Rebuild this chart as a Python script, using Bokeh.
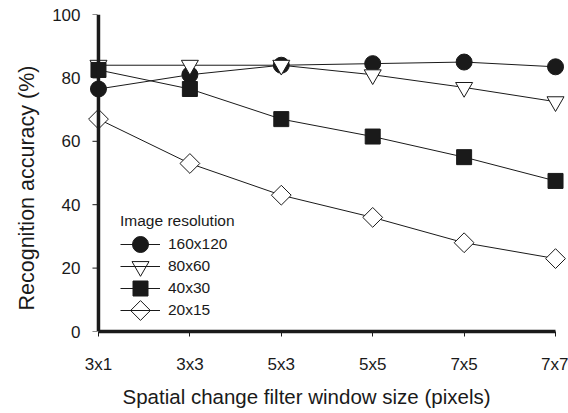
from bokeh.plotting import figure
from bokeh.models import Range1d, FixedTicker, Legend, LegendItem, Span, Title
from bokeh.embed import file_html
from bokeh.resources import INLINE
import math

categories = ["3x1", "3x3", "5x3", "5x5", "7x5", "7x7"]
res_160x120 = [76.5, 81, 84, 84.5, 85, 83.5]
res_80x60 = [84, 84, 84, 81, 77, 72.5]
res_40x30 = [82.5, 76.5, 67, 61.5, 55, 47.5]
res_20x15 = [67, 53, 43, 36, 28, 23]
series_names = ["160x120", "80x60", "40x30", "20x15"]
y_ticks = [0, 20, 40, 60, 80, 100]

xs = list(range(len(categories)))
FONT = "Liberation Sans"
INK = "#1a1a1a"

W, H = 568, 413
BL, BR, BT, BB = 87, 2, 14, 82
X0, X1 = -0.12, 5.12
Y0, Y1 = 0, 100
px_x = (W - BL - BR) / (X1 - X0)
px_y = (H - BT - BB) / (Y1 - Y0)

p = figure(width=W, height=H, output_backend="svg", toolbar_location=None,
           x_range=Range1d(X0, X1), y_range=Range1d(Y0, Y1),
           min_border_left=BL, min_border_right=BR, min_border_top=BT, min_border_bottom=BB)
p.outline_line_color = None
p.xgrid.visible = False
p.ygrid.visible = False

# y axis line at the first category, with short outward ticks
p.add_layout(Span(location=0, dimension="height", line_color=INK, line_width=3.5))
p.scatter([-3.5 / px_x] * len(y_ticks), y_ticks, marker="dash", size=5,
          line_color=INK, line_width=1)

styles = [
    (res_160x120, "circle", INK, 16, 0),
    (res_80x60, "inverted_triangle", "white", 17, 0),
    (res_40x30, "square", INK, 15, 0),
    (res_20x15, "square", "white", 14, math.pi / 4),
]

# legend layout (screen px from frame bottom-left)
LEG_X, LEG_Y, GW, GH, SP = 33, 11, 40, 20, 2
n = len(series_names)
items = []
for i, (name, (vals, marker, fill, size, ang)) in enumerate(zip(series_names, styles)):
    l = p.line(xs, vals, line_color=INK, line_width=1)
    p.scatter(xs, vals, marker=marker, size=size, angle=ang, fill_color=fill,
              line_color=INK, line_width=1)
    items.append(LegendItem(label=name, renderers=[l]))
    # full-size legend marker drawn on top of the legend line
    lx = X0 + (LEG_X + GW / 2) / px_x
    ly = Y0 + (LEG_Y + GH / 2 + (GH + SP) * (n - 1 - i)) / px_y
    p.scatter([lx], [ly], marker=marker, size=size, angle=ang, fill_color=fill,
              line_color=INK, line_width=1, level="overlay")

legend = Legend(items=items, title="Image resolution", location=(LEG_X, LEG_Y),
                padding=0, margin=0, spacing=SP, label_standoff=8,
                glyph_width=GW, glyph_height=GH, border_line_alpha=0,
                background_fill_alpha=0, title_standoff=4,
                label_text_font=FONT, label_text_font_size="15.5px", label_text_color=INK,
                title_text_font=FONT, title_text_font_size="15.5px", title_text_font_style="normal",
                title_text_color=INK)
p.add_layout(legend, "center")

for ax in (p.xaxis[0], p.yaxis[0]):
    ax.axis_line_width = 3.5
    ax.axis_line_color = INK
    ax.major_tick_line_color = INK
    ax.major_tick_line_width = 1
    ax.minor_tick_line_color = None
    ax.major_label_text_font = FONT
    ax.major_label_text_font_size = "17px"
    ax.major_label_text_color = INK

p.xaxis.ticker = FixedTicker(ticks=xs)
p.xaxis.major_label_overrides = {i: c for i, c in enumerate(categories)}
p.xaxis.bounds = (0, 5)
p.xaxis.major_tick_in = 0
p.xaxis.major_tick_out = 5
p.xaxis.major_label_standoff = 18

p.yaxis.ticker = FixedTicker(ticks=y_ticks)
p.yaxis.axis_line_color = None
p.yaxis.major_tick_line_color = None
p.yaxis.major_tick_out = 0
p.yaxis.major_tick_in = 0
p.yaxis.major_label_standoff = 7

p.add_layout(Title(text="Spatial change filter window size (pixels)", align="left",
                   offset=35, standoff=12, text_font=FONT, text_font_size="20.5px",
                   text_font_style="normal", text_color=INK), "below")
p.add_layout(Title(text="Recognition accuracy (%)", align="left",
                   offset=21, standoff=22, text_font=FONT, text_font_size="21.5px",
                   text_font_style="normal", text_color=INK), "left")

open("out.html", "w").write(file_html(p, INLINE))
